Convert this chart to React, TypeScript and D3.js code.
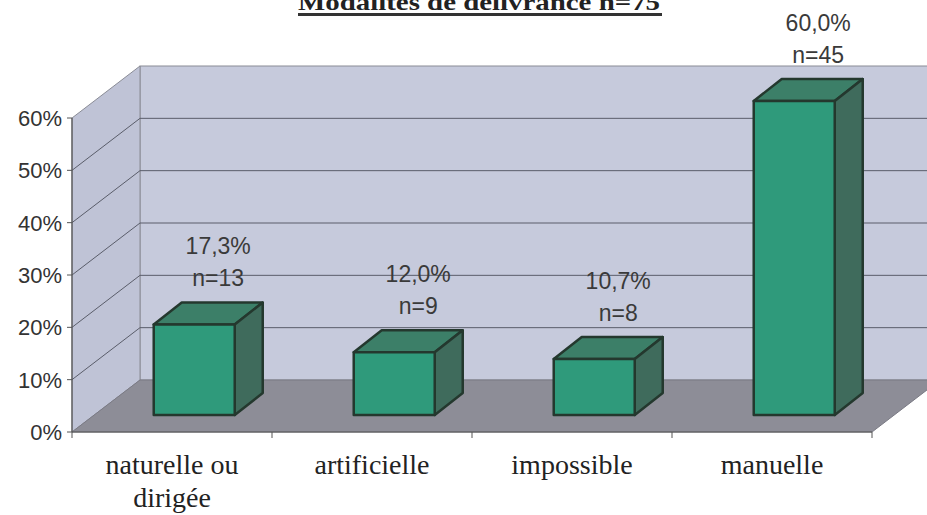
import React from "react";
import * as d3 from "d3";

const categories: string[][] = [["naturelle ou", "dirigée"], ["artificielle"], ["impossible"], ["manuelle"]];
const values: number[] = [0.173, 0.12, 0.107, 0.6];
const counts: number[] = [13, 9, 8, 45];
const yTicks: number[] = [0, 0.1, 0.2, 0.3, 0.4, 0.5, 0.6];
const title = "Modalités de délivrance n=75";

const W = 927;
const H = 515;
const X0 = 72;
const X1 = 872;
const DX = 68; // full depth x
const DY = -52; // full depth y

export default function App() {
  const y = d3.scaleLinear().domain([0, 0.6]).range([432, 118]);
  const x = d3.scaleBand<number>().domain(d3.range(categories.length)).range([X0, X1]).padding(0);
  const bw = x.bandwidth();
  const fmtPct = (v: number) => (v * 100).toFixed(1).replace(".", ",") + "%";
  const fmtTick = d3.format(".0%");

  const f1 = 17 / 52; // bar front depth fraction
  const barW = 81;
  const bdx = 28;
  const bdy = -22;

  const backTop = y(0.6) + DY;
  const backBottom = y(0) + DY;
  const pts = (a: number[][]) => a.map((p) => p.join(",")).join(" ");

  return (
    <svg width={W} height={H} style={{ position: "absolute", left: 0, top: 0, background: "#fff" }}>
      {/* title (cut off at top) */}
      <text x={298} y={10} fontFamily="Liberation Serif, serif" fontWeight="bold" fontSize={24} fill="#222" textLength={362} lengthAdjust="spacingAndGlyphs">
        {title}
      </text>
      <rect x={298} y={13} width={364} height={3} fill="#333" />

      {/* back wall */}
      <rect x={X0 + DX} y={backTop} width={X1 - X0} height={backBottom - backTop} fill="#c6cadc" stroke="#8a8c96" strokeWidth={1} />
      {/* left wall */}
      <polygon points={pts([[X0, y(0)], [X0, y(0.6)], [X0 + DX, backTop], [X0 + DX, backBottom]])} fill="#bfc3d6" stroke="#8a8c96" strokeWidth={1} />
      {/* floor */}
      <polygon points={pts([[X0, y(0)], [X1, y(0)], [X1 + DX, backBottom], [X0 + DX, backBottom]])} fill="#8d8d97" stroke="#7a7a84" strokeWidth={1} />

      {/* gridlines */}
      {yTicks.filter((t) => t > 0 && t < 0.6).map((t) => (
        <g key={t}>
          <line x1={X0} y1={y(t)} x2={X0 + DX} y2={y(t) + DY} stroke="#5a5d6a" strokeWidth={1} />
          <line x1={X0 + DX} y1={y(t) + DY} x2={X1 + DX} y2={y(t) + DY} stroke="#5a5d6a" strokeWidth={1} />
        </g>
      ))}

      {/* axes */}
      <line x1={X0} y1={y(0.6)} x2={X0} y2={y(0)} stroke="#555" strokeWidth={1.2} />
      <line x1={X0} y1={y(0)} x2={X1} y2={y(0)} stroke="#555" strokeWidth={1.2} />
      {yTicks.map((t) => (
        <g key={t}>
          <line x1={X0 - 5} y1={y(t)} x2={X0} y2={y(t)} stroke="#555" />
          <text x={X0 - 10} y={y(t)} dy="0.36em" textAnchor="end" fontFamily="Liberation Sans, Arial, sans-serif" fontSize={22} fill="#333">
            {fmtTick(t)}
          </text>
        </g>
      ))}
      {d3.range(categories.length + 1).map((i) => {
        const tx = X0 + i * bw;
        return <line key={i} x1={tx} y1={y(0)} x2={tx} y2={y(0) + 6} stroke="#555" />;
      })}

      {/* bars */}
      {values.map((v, i) => {
        const cx = (x(i) as number) + bw / 2 + DX * f1;
        const x0 = cx - barW / 2;
        const x1 = cx + barW / 2;
        const bot = y(0) + DY * f1;
        const top = y(v) + DY * f1;
        const lx = cx + bdx / 2 + 10;
        const nBase = top + bdy - 16;
        return (
          <g key={i} stroke="#24382e" strokeWidth={2.5} strokeLinejoin="round">
            <polygon points={pts([[x0, top], [x1, top], [x1 + bdx, top + bdy], [x0 + bdx, top + bdy]])} fill="#3c7f68" />
            <polygon points={pts([[x1, top], [x1 + bdx, top + bdy], [x1 + bdx, bot + bdy], [x1, bot]])} fill="#3f6b5c" />
            <rect x={x0} y={top} width={barW} height={bot - top} fill="#2f9a7b" />
            <text x={lx} y={nBase - 32} textAnchor="middle" stroke="none" fontFamily="Liberation Sans, Arial, sans-serif" fontSize={23} fill="#3a3a3a">
              {fmtPct(v)}
            </text>
            <text x={lx} y={nBase} textAnchor="middle" stroke="none" fontFamily="Liberation Sans, Arial, sans-serif" fontSize={23} fill="#3a3a3a">
              {"n=" + counts[i]}
            </text>
          </g>
        );
      })}

      {/* category labels */}
      {categories.map((lines, i) => (
        <text key={i} x={(x(i) as number) + bw / 2} y={474} textAnchor="middle" fontFamily="Liberation Serif, Times New Roman, serif" fontSize={28} fill="#222">
          {lines.map((l, j) => (
            <tspan key={j} x={(x(i) as number) + bw / 2} dy={j === 0 ? 0 : 33}>
              {l}
            </tspan>
          ))}
        </text>
      ))}
    </svg>
  );
}
